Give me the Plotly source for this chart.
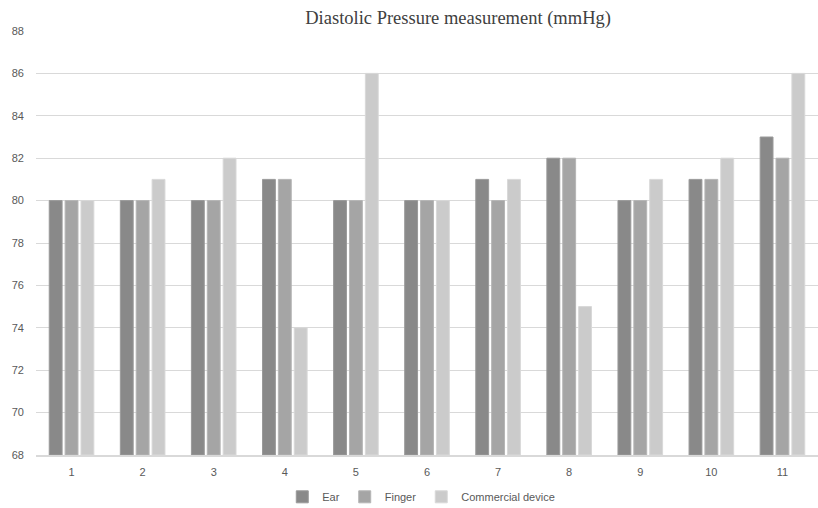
import plotly.graph_objects as go

categories = ["1", "2", "3", "4", "5", "6", "7", "8", "9", "10", "11"]
ear = [80, 80, 80, 81, 80, 80, 81, 82, 80, 81, 83]
finger = [80, 80, 80, 81, 80, 80, 80, 82, 80, 81, 82]
commercial = [80, 81, 82, 74, 86, 80, 81, 75, 81, 82, 86]
y_ticks = [68, 70, 72, 74, 76, 78, 80, 82, 84, 86, 88]

fig = go.Figure()
series = [("Ear", ear, "#898989", "#9a9a9a"),
          ("Finger", finger, "#a5a5a5", "#b5b5b5"),
          ("Commercial device", commercial, "#cbcbcb", "#d8d8d8")]
for name, vals, col, edge in series:
    fig.add_trace(go.Bar(
        x=categories, y=[v - 68 for v in vals], base=68, name=name,
        marker=dict(color=col, line=dict(color=edge, width=1)),
    ))

fig.update_layout(
    width=818, height=508,
    margin=dict(l=36, r=0, t=31, b=53, autoexpand=False),
    paper_bgcolor="white", plot_bgcolor="white",
    barmode="group", bargap=0.33, bargroupgap=0.19,
    title=dict(text="Diastolic Pressure measurement (mmHg)",
               font=dict(family="Liberation Serif", size=18.5, color="#404040"),
               x=0.56, xref="container", xanchor="center",
               y=0.965, yref="container", yanchor="middle"),
    font=dict(family="Liberation Sans", size=11, color="#595959"),
    showlegend=True,
    legend=dict(orientation="h", x=0.515, xref="container", xanchor="center",
                y=0.022, yref="container", yanchor="middle",
                font=dict(size=11, color="#595959"), itemwidth=30,
                tracegroupgap=0, traceorder="normal"),
    xaxis=dict(type="category", showgrid=False, showline=True, linecolor="#d9d9d9",
               linewidth=2, ticks="", ticklabelstandoff=6,
               tickfont=dict(size=11, color="#595959")),
    yaxis=dict(range=[68, 88], tickvals=y_ticks, showgrid=True, gridcolor="#d9d9d9",
               gridwidth=1, zeroline=False, showline=False, ticks="",
               ticklabelstandoff=11,
               tickfont=dict(size=11, color="#595959")),
)

fig.write_html("out.html")
